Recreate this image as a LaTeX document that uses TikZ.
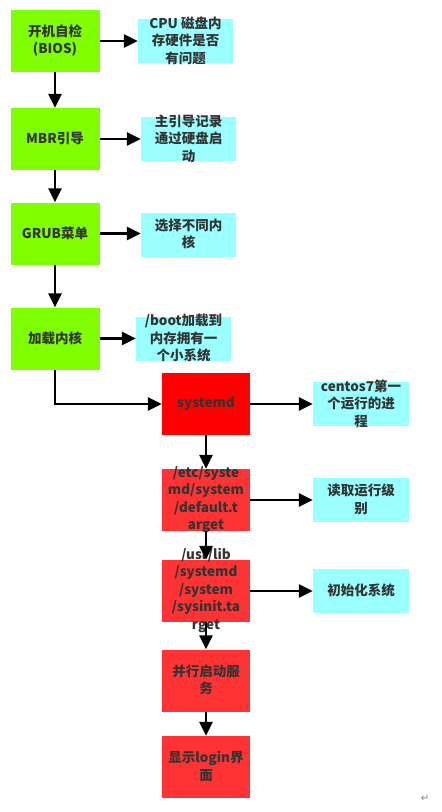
\documentclass[tikz,border=0pt]{standalone}
\usepackage{fontspec}
\setmainfont{Noto Sans CJK SC}
\newfontfamily\symfont{DejaVu Sans}
\usetikzlibrary{arrows.meta}
\definecolor{bootgreen}{HTML}{80FF00}
\definecolor{notecyan}{HTML}{99FFFF}
\definecolor{sysred}{HTML}{FF3333}
\definecolor{inkgray}{HTML}{333333}
\newcommand{\boxtxt}[1]{\makebox[0pt]{\smash{\raisebox{-3pt}{\parbox[c]{110pt}{\centering #1}}}}}

\begin{document}
\begin{tikzpicture}[x=1pt, y=-1pt,
    every node/.style={text=inkgray, font=\fontsize{13.5}{17.5}\selectfont\bfseries},
    stage/.style={fill=bootgreen, minimum width=89pt, minimum height=62pt, inner sep=0pt},
    note/.style={fill=notecyan, minimum width=95pt, minimum height=44pt, inner sep=0pt},
    sysbox/.style={fill=sysred, minimum width=88pt, minimum height=62pt, inner sep=0pt},
    arr/.style={-{Triangle[length=14pt,width=13pt]}, line width=2.5pt}]
    \useasboundingbox (0,0) rectangle (442,812);
    % boot stages
    \node[stage] (bios) at (55,41) {\boxtxt{开机自检\\(BIOS)}};
    \node[stage] (mbr) at (55,139) {\boxtxt{MBR引导}};
    \node[stage] (grub) at (55,233.5) {\boxtxt{GRUB菜单}};
    \node[stage] (kernel) at (55,338.5) {\boxtxt{加载内核}};
    \node[note] (hwcheck) at (185.5,41) {\boxtxt{CPU 磁盘内\\存硬件是否\\有问题}};
    \node[note] (mbrnote) at (188.5,139) {\boxtxt{主引导记录\\通过硬盘启\\动}};
    \node[note] (grubnote) at (188.5,234.5) {\boxtxt{选择不同内\\核}};
    \node[note] (kernelnote) at (183.5,339) {\boxtxt{/boot加载到\\内存拥有一\\个小系统}};
    % systemd part
    \node[sysbox, fill=red] (systemd) at (206,404) {\boxtxt{systemd}};
    \node[sysbox] (target) at (206,500) {\boxtxt{/etc/syste\\md/system\\/default.t\\arget}};
    \node[sysbox] (sysinit) at (206,591) {\boxtxt{/usr/lib\\/systemd\\/system\\/sysinit.ta\\rget}};
    \node[sysbox] (services) at (206,680.5) {\boxtxt{并行启动服\\务}};
    \node[sysbox] (login) at (206,767) {\boxtxt{显示login界\\面}};
    \node[note, minimum width=96pt] (pid1) at (361,404) {\boxtxt{centos7第一\\个运行的进\\程}};
    \node[note, minimum width=96pt] (runlevel) at (361,500) {\boxtxt{读取运行级\\别}};
    \node[note, minimum width=96pt] (initsys) at (361,591) {\boxtxt{初始化系统}};
    \node[text=gray, font=\symfont\fontsize{10}{12}\selectfont] (mark) at (425,798) {↵};
    % arrows
    \foreach \a/\b in {bios/mbr, mbr/grub, grub/kernel, systemd/target, target/sysinit, sysinit/services, services/login}
        \draw[arr] (\a.south) -- (\b.north);
    \foreach \a/\b in {bios/hwcheck, mbr/mbrnote, grub/grubnote, kernel/kernelnote, systemd/pid1, target/runlevel, sysinit/initsys}
        \draw[arr] (\a.east) -- (\a.east -| \b.west);
    \draw[arr] (kernel.south) |- (systemd.west);
\end{tikzpicture}
\end{document}
